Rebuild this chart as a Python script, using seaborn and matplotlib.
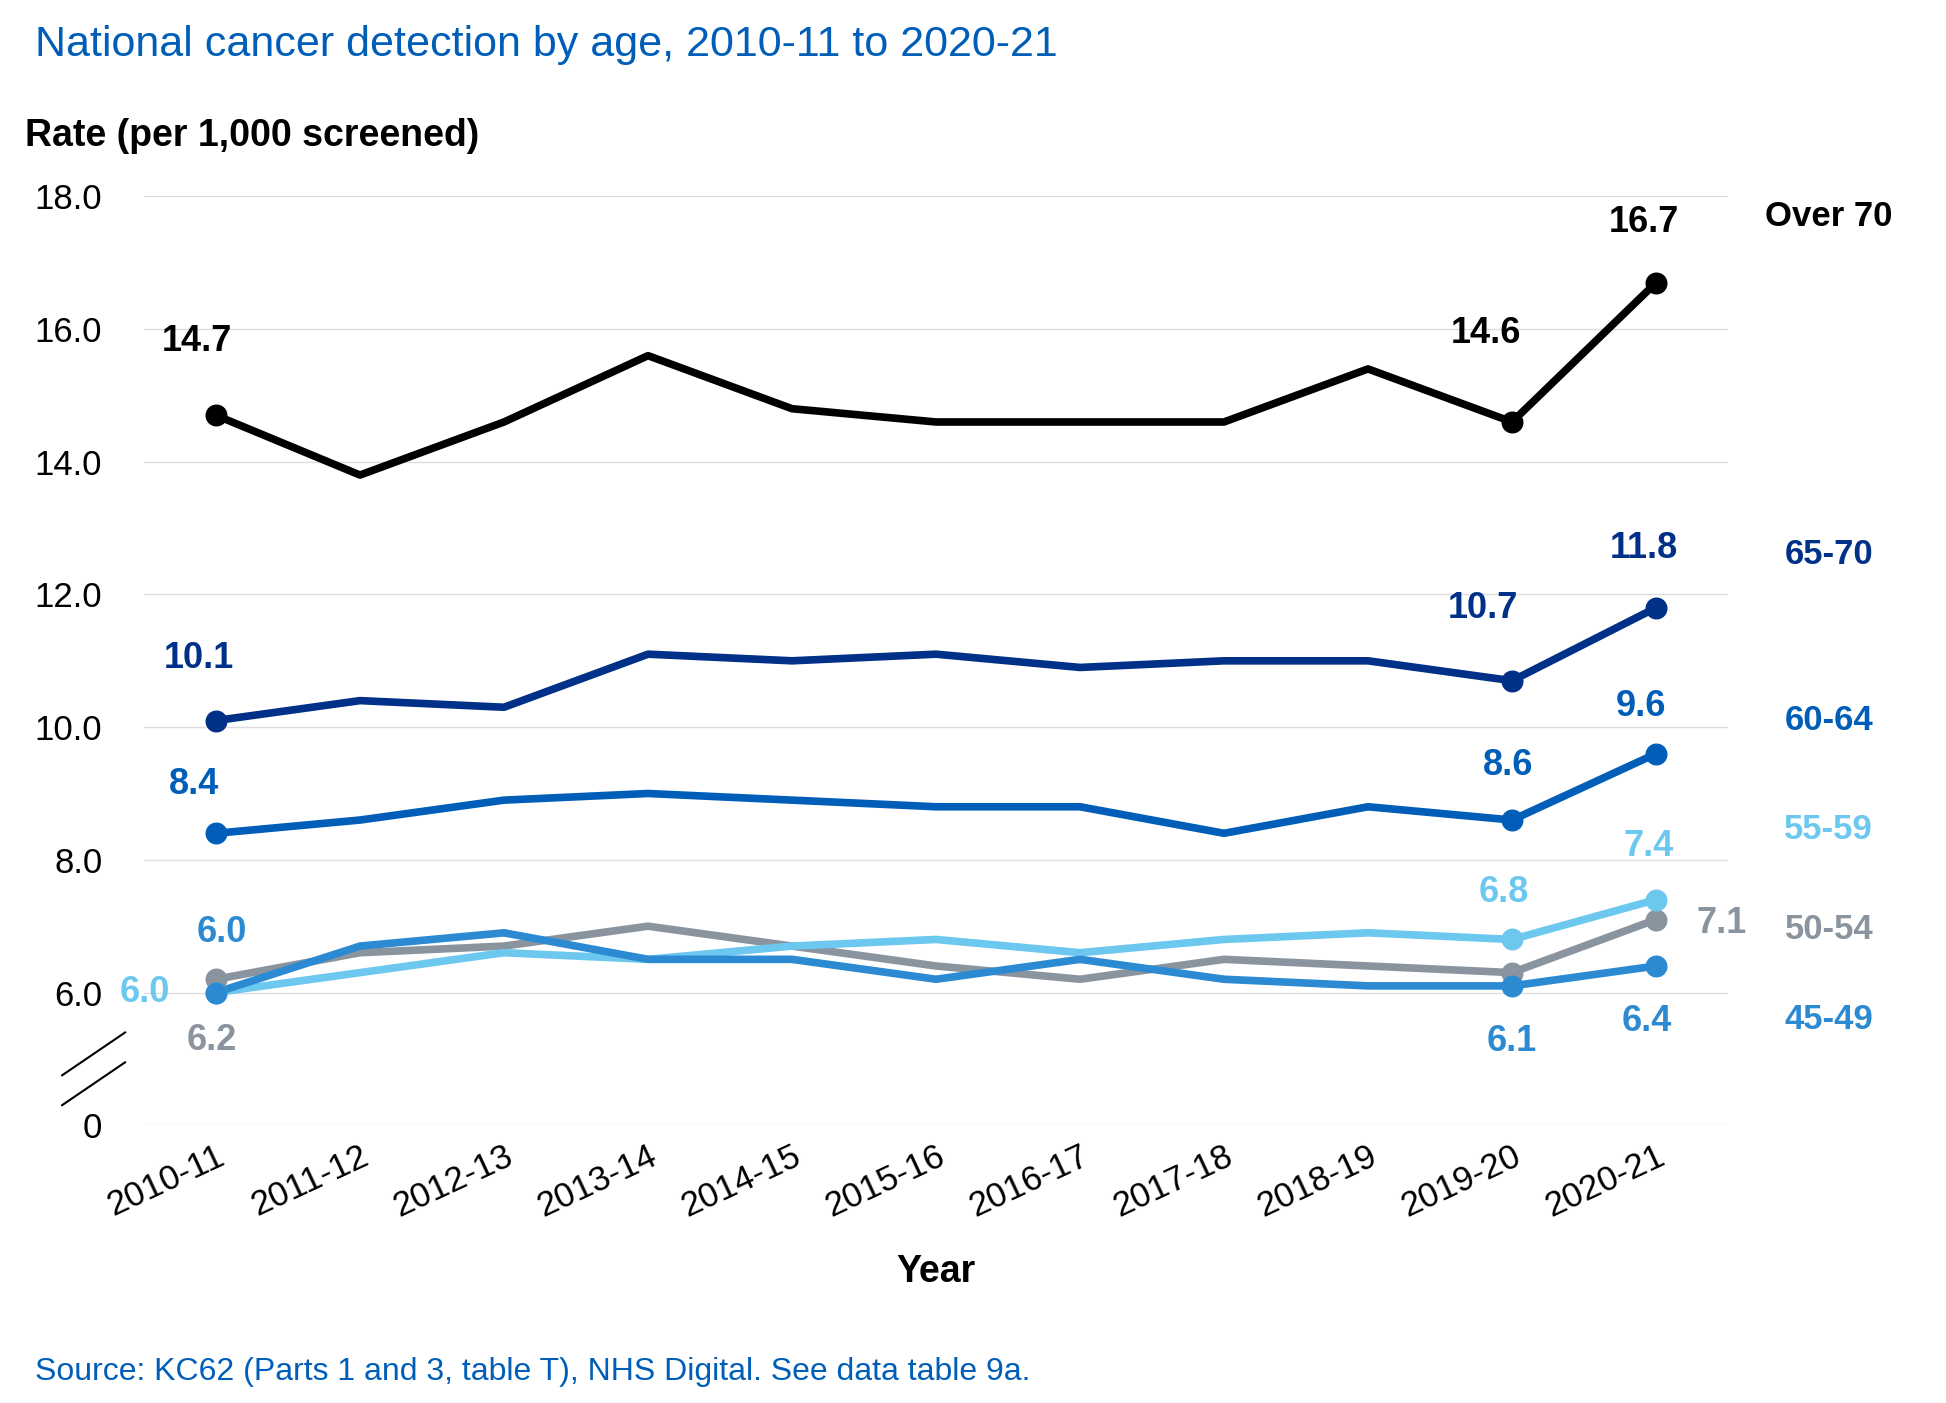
import pandas as pd
import seaborn as sns
import matplotlib.pyplot as plt

# Data
years = ["2010-11", "2011-12", "2012-13", "2013-14", "2014-15", "2015-16",
         "2016-17", "2017-18", "2018-19", "2019-20", "2020-21"]
over70 = [14.7, 13.8, 14.6, 15.6, 14.8, 14.6, 14.6, 14.6, 15.4, 14.6, 16.7]
age65_70 = [10.1, 10.4, 10.3, 11.1, 11.0, 11.1, 10.9, 11.0, 11.0, 10.7, 11.8]
age60_64 = [8.4, 8.6, 8.9, 9.0, 8.9, 8.8, 8.8, 8.4, 8.8, 8.6, 9.6]
age55_59 = [6.0, 6.3, 6.6, 6.5, 6.7, 6.8, 6.6, 6.8, 6.9, 6.8, 7.4]
age50_54 = [6.2, 6.6, 6.7, 7.0, 6.7, 6.4, 6.2, 6.5, 6.4, 6.3, 7.1]
age45_49 = [6.0, 6.7, 6.9, 6.5, 6.5, 6.2, 6.5, 6.2, 6.1, 6.1, 6.4]

series = {"Over 70": over70, "65-70": age65_70, "60-64": age60_64,
          "55-59": age55_59, "50-54": age50_54, "45-49": age45_49}
colors = {"Over 70": "#000000", "65-70": "#003087", "60-64": "#005EB8",
          "55-59": "#6CC8EE", "50-54": "#8A949E", "45-49": "#2B8AD2"}
draw_order = ["50-54", "55-59", "45-49", "60-64", "65-70", "Over 70"]

# label offsets (points) for first, 2019-20, 2020-21 values
offsets = {
    "Over 70": {0: (-14, 53), 9: (-19, 64), 10: (-9, 43)},
    "65-70": {0: (-12, 45), 9: (-21, 52), 10: (-9, 43)},
    "60-64": {0: (-16, 35), 9: (-3, 39), 10: (-11, 34)},
    "55-59": {0: (-51, 0), 9: (-6, 34), 10: (-5, 38)},
    "50-54": {0: (-3, -44), 10: (47, -3)},
    "45-49": {0: (4, 43), 9: (0, -40), 10: (-7, -40)},
}
side_y = {"Over 70": 17.7, "65-70": 12.6, "60-64": 10.1,
          "55-59": 8.45, "50-54": 6.95, "45-49": 5.6}

df = pd.DataFrame([(k, i, v) for k, vals in series.items() for i, v in enumerate(vals)],
                  columns=["group", "x", "rate"])

sns.set_style("white")
plt.rcParams["font.family"] = ["Liberation Sans", "DejaVu Sans"]
plt.rcParams["text.color"] = "black"
plt.rcParams["xtick.color"] = "black"
plt.rcParams["ytick.color"] = "black"
plt.rcParams["axes.labelcolor"] = "black"

fig = plt.figure(figsize=(19.46, 14.03), dpi=100)
ax = fig.add_axes([0.074, 0.198, 0.814, 0.662])

for g in draw_order:
    sub = df[df["group"] == g]
    sns.lineplot(data=sub, x="x", y="rate", color=colors[g], linewidth=5.5, ax=ax)
    marked = sub[sub["x"].isin([0, 9, 10])]
    ax.scatter(marked["x"], marked["rate"], s=220, color=colors[g], zorder=3)
    for i, (dx, dy) in offsets[g].items():
        ax.annotate(f"{series[g][i]:.1f}", (i, series[g][i]), xytext=(dx, dy),
                    textcoords="offset points", ha="center", va="center",
                    fontsize=26, fontweight="bold", color=colors[g])
    ax.text(11.2, side_y[g], g, ha="center", va="center", fontsize=25,
            fontweight="bold", color=colors[g], clip_on=False)

ax.set_xlim(-0.5, 10.5)
ax.set_ylim(4, 18)
ax.set_xticks(range(len(years)))
ax.set_xticklabels(years, rotation=25, ha="right", rotation_mode="anchor", fontsize=25)
ticks = [4, 6, 8, 10, 12, 14, 16, 18]
ax.set_yticks(ticks)
ax.set_yticklabels(["0"] + [f"{t:.1f}" for t in ticks[1:]], fontsize=25)
ax.tick_params(axis="y", length=0, pad=30)
ax.tick_params(axis="x", length=0, pad=10)
ax.grid(axis="y", color="#dddddd", linewidth=1)
for s in ax.spines.values():
    s.set_visible(False)
ax.set_xlabel("Year", fontsize=27, fontweight="bold", labelpad=22)
ax.set_ylabel("")

# axis break marks
for yoff in (0, 0.45):
    ax.plot([-1.07, -0.63], [4.3 + yoff, 4.95 + yoff], color="black",
            linewidth=1.5, clip_on=False)

fig.text(0.018, 0.968, "National cancer detection by age, 2010-11 to 2020-21",
         fontsize=31, color="#005EB8", va="center")
fig.text(0.013, 0.903, "Rate (per 1,000 screened)", fontsize=27,
         fontweight="bold", va="center")
fig.text(0.018, 0.022, "Source: KC62 (Parts 1 and 3, table T), NHS Digital. See data table 9a.",
         fontsize=23, color="#005EB8", va="center")

fig.savefig("out.png", dpi=100)
